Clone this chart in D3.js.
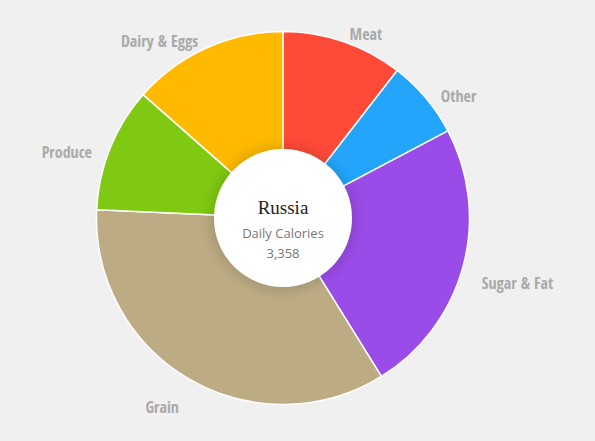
<!DOCTYPE html>
<html><head><meta charset="utf-8">
<script src="https://cdn.jsdelivr.net/npm/d3@7"></script>
<style>
html,body{margin:0;padding:0;background:#f0f0f0;}
svg{display:block;}
</style></head>
<body>
<script>
const categories = ["Meat","Other","Sugar & Fat","Grain","Produce","Dairy & Eggs"];
const calories = [352, 228, 802, 1160, 363, 453];
const colors = ["#FF4A37","#23A5FC","#9A4CE8","#BCAB83","#80C912","#FFBA00"];
const country = "Russia";
const subtitle = "Daily Calories";
const total = "3,358";

const W = 595, H = 441, cx = 283, cy = 218, R = 186.5, Rin = 69, Rlab = 206;
const data = categories.map((c,i)=>({name:c, value:calories[i], color:colors[i]}));

const svg = d3.select("body").append("svg").attr("width",W).attr("height",H);
svg.append("rect").attr("width",W).attr("height",H).attr("fill","#f0f0f0");

const defs = svg.append("defs");
const f = defs.append("filter").attr("id","sh").attr("x","-50%").attr("y","-50%").attr("width","200%").attr("height","200%");
f.append("feGaussianBlur").attr("in","SourceAlpha").attr("stdDeviation",8).attr("result","b");
f.append("feComponentTransfer").attr("in","b").attr("result","b2")
  .append("feFuncA").attr("type","linear").attr("slope",0.22);
const m = f.append("feMerge");
m.append("feMergeNode").attr("in","b2");
m.append("feMergeNode").attr("in","SourceGraphic");

const pie = d3.pie().sort(null).value(d=>d.value);
const arcs = pie(data);
const arc = d3.arc().innerRadius(50).outerRadius(R);

const g = svg.append("g").attr("transform",`translate(${cx},${cy})`);
g.selectAll("path.slice").data(arcs).join("path")
  .attr("class","slice")
  .attr("d",arc)
  .attr("fill",d=>d.data.color)
  .attr("stroke","#fff").attr("stroke-width",1.5).attr("stroke-linejoin","round");

g.append("circle").attr("r",Rin).attr("fill","#fff").attr("filter","url(#sh)");

g.selectAll("text.lab").data(arcs).join("text")
  .attr("class","lab")
  .each(function(d){
    const a = (d.startAngle+d.endAngle)/2;
    const x = Rlab*Math.sin(a), y = -Rlab*Math.cos(a);
    d3.select(this).attr("x",x).attr("y",y+17)
      .attr("text-anchor", a < Math.PI ? "start" : "end");
  })
  .attr("font-family","'Open Sans Condensed','Liberation Sans Narrow','Open Sans',sans-serif")
  .attr("font-weight","bold")
  .attr("font-stretch","condensed")
  .attr("font-size","16px")
  .attr("fill","#aaaaaa")
  .text(d=>d.data.name);

g.append("text").attr("x",0).attr("y",-4).attr("text-anchor","middle")
  .attr("font-family","'Liberation Serif','DejaVu Serif',serif").attr("font-size","19px")
  .attr("fill","#222").text(country);
g.append("text").attr("x",0).attr("y",19.7).attr("text-anchor","middle")
  .attr("font-family","'Open Sans',sans-serif").attr("font-size","13px")
  .attr("fill","#777").text(subtitle);
g.append("text").attr("x",0).attr("y",40.3).attr("text-anchor","middle")
  .attr("font-family","'Open Sans',sans-serif").attr("font-size","13px")
  .attr("fill","#777").text(total);
</script>
</body></html>
